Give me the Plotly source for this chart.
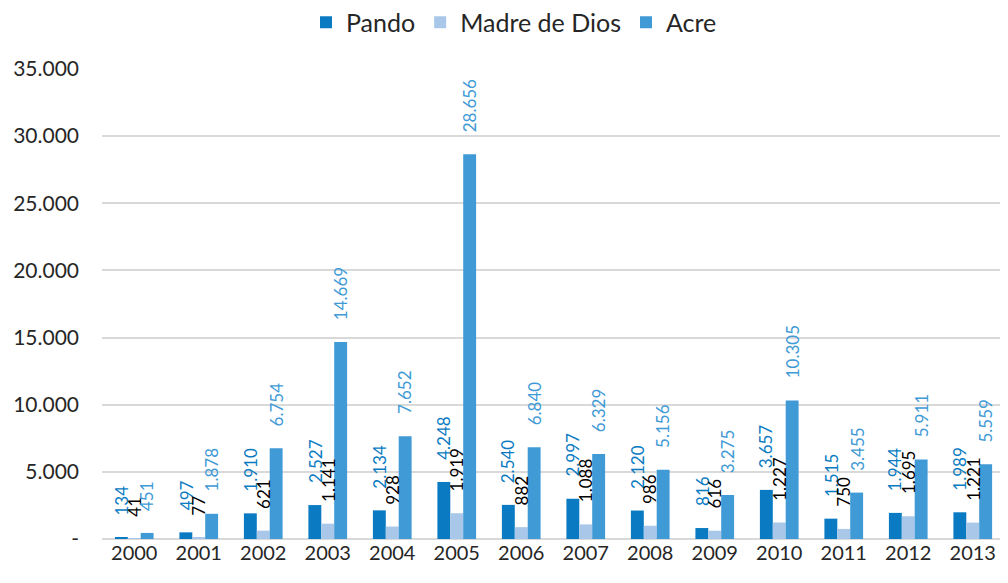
import plotly.graph_objects as go

years = ["2000", "2001", "2002", "2003", "2004", "2005", "2006", "2007",
         "2008", "2009", "2010", "2011", "2012", "2013"]
pando = [134, 497, 1910, 2527, 2134, 4248, 2540, 2997, 2120, 816, 3657, 1515, 1944, 1989]
madre = [41, 77, 621, 1141, 928, 1919, 882, 1088, 986, 616, 1227, 750, 1695, 1221]
acre = [451, 1878, 6754, 14669, 7652, 28656, 6840, 6329, 5156, 3275, 10305, 3455, 5911, 5559]

tick_vals = [0, 5000, 10000, 15000, 20000, 25000, 30000, 35000]
tick_text = ["-", "5.000", "10.000", "15.000", "20.000", "25.000", "30.000", "35.000"]

series = [
    ("Pando", pando, "#0a7bc2", "#0a7bc2"),
    ("Madre de Dios", madre, "#a9c8e9", "#000000"),
    ("Acre", acre, "#3f9ad6", "#3f9ad6"),
]

FONT = "Lato, 'Open Sans', sans-serif"


def fmt(v):
    return f"{v:,}".replace(",", ".")


fig = go.Figure()
for name, vals, color, _ in series:
    fig.add_trace(go.Bar(
        name=name, x=years, y=vals,
        marker=dict(color=color, line=dict(width=0)),
    ))

bar_px = 64.5 * (1 - 0.4) / 3
annotations = []
for i, (name, vals, _, tcolor) in enumerate(series):
    shift = (i - 1) * bar_px
    for j, v in enumerate(vals):
        annotations.append(dict(
            x=j, y=v, xref="x", yref="y", text=fmt(v), textangle=-90,
            showarrow=False, xanchor="center", yanchor="bottom",
            xshift=shift, yshift=20,
            font=dict(family=FONT, size=17, color=tcolor),
        ))

fig.update_layout(
    width=1000, height=575,
    margin=dict(l=94, r=3, t=61, b=44),
    paper_bgcolor="white", plot_bgcolor="white",
    barmode="group", bargap=0.4, bargroupgap=0,
    font=dict(family=FONT, size=20, color="#262626"),
    legend=dict(orientation="h", xref="container", x=0.506, xanchor="center",
                yref="container", y=0.975, yanchor="middle",
                font=dict(size=25, color="#262626"),
                traceorder="normal"),
    annotations=annotations,
    xaxis=dict(type="category", range=[-0.5, 13.5], showgrid=False,
               showline=False, ticks="",
               tickfont=dict(size=20, color="#262626")),
    yaxis=dict(range=[0, 35000], tickvals=tick_vals, ticktext=tick_text,
               showgrid=True, gridcolor="#d9d9d9", gridwidth=2,
               zeroline=True, zerolinecolor="#d9d9d9", zerolinewidth=2,
               showline=False, ticks="", ticklabelstandoff=22,
               tickfont=dict(size=21, color="#262626")),
)

fig.write_html("out.html")
